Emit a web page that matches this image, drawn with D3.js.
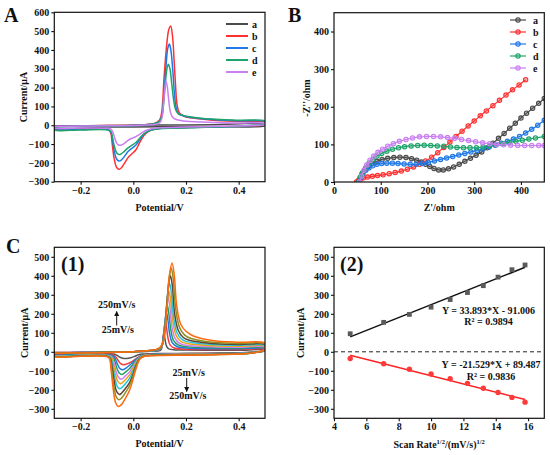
<!DOCTYPE html>
<html><head><meta charset="utf-8">
<script src="https://cdn.jsdelivr.net/npm/d3@7"></script>
<style>
body{margin:0;background:#fff}
svg text{font-family:"Liberation Serif","Times New Roman",serif;font-weight:bold;fill:#111}
</style>
</head><body>
<svg id="c" width="550" height="455"></svg>
<script>
// ---------- Panel A: CV curves a-e ----------
const legendA = ["a","b","c","d","e"];
const colorsA = ["#4a4a4a","#ff3030","#1f78e6","#1ea36a","#c97ff2"];
const cvA_a = [[-0.3,-3],[-0.1,-1],[0.1,1],[0.3,3],[0.5,5],[0.5,-3],[0.3,-6],[0.1,-8],[-0.1,-10],[-0.3,-12],[-0.3,-3]];
const cvA_b = [[-0.3,-6],[-0.2,-4],[-0.1,-2],[0,0],[0.05,4],[0.08,10],[0.1,28],[0.108,70],[0.117,258],[0.127,430],[0.135,510],[0.142,527],[0.149,470],[0.155,340],[0.16,220],[0.166,110],[0.175,65],[0.19,50],[0.2,44],[0.25,34],[0.3,27],[0.4,20],[0.5,15],
 [0.5,4],[0.45,-3],[0.4,-6],[0.3,-9],[0.2,-12],[0.1,-16],[0.07,-24],[0.055,-35],[0.04,-55],[0.025,-90],[0.01,-130],[-0.005,-152],[-0.02,-172],[-0.035,-205],[-0.048,-230],[-0.056,-234],[-0.065,-220],[-0.073,-175],[-0.08,-100],[-0.086,-40],[-0.095,-23],[-0.2,-20],[-0.3,-18],[-0.3,-6]];
const cvA_c = [[-0.3,-7],[-0.2,-5],[-0.1,-3],[0,-1],[0.05,3],[0.08,8],[0.1,22],[0.109,55],[0.117,180],[0.125,330],[0.131,410],[0.137,431],[0.143,395],[0.15,290],[0.156,170],[0.163,90],[0.172,60],[0.19,50],[0.2,46],[0.25,36],[0.3,30],[0.4,24],[0.5,19],
 [0.5,6],[0.45,-2],[0.4,-6],[0.3,-10],[0.2,-13],[0.1,-17],[0.07,-24],[0.055,-33],[0.04,-48],[0.025,-75],[0.01,-105],[-0.005,-122],[-0.02,-140],[-0.035,-168],[-0.047,-187],[-0.055,-190],[-0.064,-178],[-0.072,-140],[-0.079,-80],[-0.085,-36],[-0.095,-24],[-0.2,-22],[-0.3,-21],[-0.3,-7]];
const cvA_d = [[-0.3,-8],[-0.2,-6],[-0.1,-4],[0,-1],[0.05,3],[0.08,8],[0.1,22],[0.109,50],[0.117,150],[0.124,260],[0.129,310],[0.133,324],[0.139,300],[0.146,220],[0.153,135],[0.16,85],[0.17,62],[0.19,52],[0.2,48],[0.25,39],[0.3,33],[0.4,27],[0.5,22],
 [0.5,8],[0.45,0],[0.4,-5],[0.3,-10],[0.2,-14],[0.1,-19],[0.07,-26],[0.055,-34],[0.04,-46],[0.025,-68],[0.01,-92],[-0.005,-106],[-0.02,-120],[-0.035,-140],[-0.047,-153],[-0.055,-156],[-0.064,-145],[-0.072,-112],[-0.079,-65],[-0.085,-34],[-0.095,-26],[-0.2,-25],[-0.3,-24],[-0.3,-8]];
const cvA_e = [[-0.3,-6],[-0.2,-4],[-0.1,-3],[0,-1],[0.05,1],[0.08,4],[0.1,12],[0.108,35],[0.115,120],[0.12,200],[0.124,235],[0.129,205],[0.134,140],[0.14,75],[0.148,45],[0.16,32],[0.18,25],[0.2,21],[0.3,15],[0.4,12],[0.5,10],
 [0.5,4],[0.45,-1],[0.4,-4],[0.3,-7],[0.2,-10],[0.1,-14],[0.07,-19],[0.05,-27],[0.035,-38],[0.02,-52],[0.005,-64],[-0.01,-72],[-0.025,-86],[-0.038,-100],[-0.048,-106],[-0.056,-105],[-0.064,-92],[-0.071,-66],[-0.078,-36],[-0.085,-20],[-0.1,-16],[-0.2,-15],[-0.3,-14],[-0.3,-6]];

// ---------- Panel B: Nyquist plots a-e ----------
const eis_a = [[52,0],[56,12],[60,22],[66,32],[73,41],[82,49],[92,55],[103,60],[115,63],[128,65],[141,66],[154,65],[166,62],[177,58],[187,53],[196,47],[205,41],[214,36],[224,32],[234,32],[245,35],[256,40],[268,47],[280,55],[292,63],[304,71],[316,80],[328,91],[340,103],[352,116],[364,129],[376,143],[388,156],[400,170],[412,183],[425,196],[438,209],[450,222]];
const eis_b = [[48,0],[52,4],[57,8],[63,11],[72,13],[82,15],[93,17],[105,19],[118,22],[131,25],[144,29],[157,34],[170,40],[183,47],[196,56],[209,66],[222,78],[235,92],[248,106],[261,121],[274,135],[287,149],[300,162],[313,176],[326,189],[340,203],[354,217],[368,231],[382,245],[396,258],[410,272]];
const eis_c = [[53,0],[57,12],[62,22],[68,31],[75,38],[83,43],[92,47],[102,49],[113,50],[125,50],[137,49],[150,48],[163,47],[176,47],[189,49],[202,52],[215,56],[228,60],[241,64],[254,68],[267,72],[280,76],[293,80],[306,84],[319,88],[332,93],[345,98],[358,103],[371,108],[384,114],[397,121],[410,130],[423,140],[436,151],[450,164]];
const eis_d = [[53,0],[57,14],[62,26],[68,38],[75,50],[83,60],[92,69],[102,76],[113,82],[125,87],[138,91],[151,94],[165,96],[179,97],[193,98],[207,97],[221,96],[235,95],[249,93],[263,92],[277,91],[291,91],[305,91],[319,93],[333,96],[347,99],[361,102],[375,105],[389,108],[403,111],[417,114],[431,117],[450,121]];
const eis_e = [[55,0],[59,16],[64,31],[70,45],[77,58],[85,69],[94,79],[104,87],[115,95],[127,102],[140,108],[154,113],[168,117],[183,120],[198,121],[213,121],[228,120],[243,118],[258,116],[273,113],[288,110],[303,107],[318,104],[333,102],[348,100],[363,99],[378,98],[393,97],[408,97],[423,97],[438,97],[450,97]];

// ---------- Panel C(1): CV at scan rates 25..250 mV/s ----------
const colorsC = ["#555555","#f23b3b","#1f77e0","#1fa05e","#d27ef0","#e9a41c","#25c4d9","#5a4638","#8f8f20","#ff6a10"];
const cvC_25 = [[-0.3,-4],[-0.2,-3],[-0.1,-2],[0,0],[0.05,2],[0.09,4],[0.104,8],[0.109,25],[0.113,75],[0.116,100],[0.12,70],[0.126,30],[0.135,15],[0.16,10],[0.2,9],[0.3,8],[0.4,8],[0.5,9],
 [0.5,4],[0.45,-3],[0.4,-5],[0.3,-7],[0.2,-8],[0.1,-9],[0.06,-10],[0.035,-12],[0.02,-16],[0.005,-24],[-0.01,-31],[-0.025,-35],[-0.04,-34],[-0.055,-25],[-0.065,-16],[-0.075,-11],[-0.1,-10],[-0.2,-10],[-0.3,-10],[-0.3,-4]];
const cvC_50 = [[-0.3,-4],[-0.2,-3],[-0.1,-2],[0,0],[0.05,3],[0.09,6],[0.102,12],[0.109,30],[0.115,90],[0.119,140],[0.122,160],[0.126,130],[0.132,70],[0.14,35],[0.155,20],[0.2,14],[0.3,12],[0.4,12],[0.5,13],
 [0.5,6],[0.45,-3],[0.4,-6],[0.3,-8],[0.2,-10],[0.1,-11],[0.065,-12],[0.05,-15],[0.03,-21],[0.015,-32],[0,-47],[-0.015,-59],[-0.035,-68],[-0.048,-62],[-0.058,-45],[-0.066,-28],[-0.075,-17],[-0.1,-13],[-0.2,-12],[-0.3,-12],[-0.3,-4]];
const cvC_75 = [[-0.3,-5],[-0.2,-4],[-0.1,-2],[0,0],[0.05,3],[0.09,7],[0.102,14],[0.11,35],[0.117,110],[0.122,180],[0.126,205],[0.131,170],[0.138,95],[0.147,50],[0.165,28],[0.2,20],[0.3,16],[0.4,16],[0.5,17],
 [0.5,7],[0.45,-4],[0.4,-7],[0.3,-9],[0.2,-11],[0.1,-12],[0.06,-14],[0.04,-18],[0.025,-24],[0.01,-40],[-0.003,-57],[-0.015,-72],[-0.028,-86],[-0.04,-95],[-0.051,-88],[-0.06,-66],[-0.068,-38],[-0.076,-21],[-0.1,-15],[-0.2,-14],[-0.3,-14],[-0.3,-5]];
const cvC_100 = [[-0.3,-5],[-0.2,-4],[-0.1,-2],[0,0],[0.05,3],[0.09,8],[0.103,16],[0.111,40],[0.119,130],[0.125,215],[0.129,245],[0.134,210],[0.142,120],[0.152,62],[0.17,36],[0.2,27],[0.3,21],[0.4,20],[0.5,21],
 [0.5,8],[0.45,-4],[0.4,-8],[0.3,-10],[0.2,-12],[0.1,-13],[0.06,-15],[0.04,-19],[0.025,-26],[0.01,-46],[-0.003,-69],[-0.015,-89],[-0.03,-107],[-0.043,-120],[-0.054,-110],[-0.063,-84],[-0.071,-46],[-0.079,-24],[-0.1,-17],[-0.2,-16],[-0.3,-16],[-0.3,-5]];
const cvC_125 = [[-0.3,-6],[-0.2,-4],[-0.1,-2],[0,0],[0.05,4],[0.09,9],[0.103,18],[0.112,45],[0.121,150],[0.127,250],[0.132,285],[0.138,245],[0.146,140],[0.157,75],[0.175,45],[0.2,35],[0.3,26],[0.4,24],[0.5,25],
 [0.5,9],[0.45,-5],[0.4,-9],[0.3,-11],[0.2,-13],[0.1,-14],[0.06,-16],[0.04,-20],[0.025,-28],[0.01,-52],[-0.003,-82],[-0.015,-107],[-0.03,-127],[-0.046,-145],[-0.057,-133],[-0.066,-102],[-0.074,-55],[-0.082,-26],[-0.1,-19],[-0.2,-18],[-0.3,-18],[-0.3,-6]];
const cvC_150 = [[-0.3,-6],[-0.2,-5],[-0.1,-3],[0,0],[0.05,4],[0.09,10],[0.104,20],[0.113,50],[0.122,165],[0.129,280],[0.135,320],[0.141,280],[0.15,160],[0.162,88],[0.18,55],[0.2,45],[0.3,32],[0.4,29],[0.5,29],
 [0.5,10],[0.45,-5],[0.4,-10],[0.3,-12],[0.2,-14],[0.1,-15],[0.06,-17],[0.04,-21],[0.025,-30],[0.01,-57],[-0.003,-95],[-0.015,-123],[-0.03,-147],[-0.043,-164],[-0.049,-168],[-0.059,-156],[-0.068,-120],[-0.076,-65],[-0.084,-28],[-0.1,-20],[-0.2,-19],[-0.3,-19],[-0.3,-6]];
const cvC_175 = [[-0.3,-7],[-0.2,-5],[-0.1,-3],[0,0],[0.05,4],[0.09,11],[0.104,22],[0.113,52],[0.123,180],[0.132,320],[0.138,360],[0.144,315],[0.153,180],[0.166,100],[0.185,65],[0.2,55],[0.3,38],[0.4,34],[0.5,33],
 [0.5,11],[0.45,-6],[0.4,-10],[0.3,-13],[0.2,-15],[0.1,-16],[0.06,-18],[0.04,-22],[0.025,-32],[0.01,-65],[-0.003,-109],[-0.015,-141],[-0.03,-168],[-0.045,-190],[-0.051,-195],[-0.061,-182],[-0.07,-140],[-0.078,-75],[-0.086,-30],[-0.1,-21],[-0.2,-20],[-0.3,-20],[-0.3,-7]];
const cvC_200 = [[-0.3,-7],[-0.2,-5],[-0.1,-3],[0,0],[0.05,5],[0.09,12],[0.104,24],[0.114,58],[0.124,190],[0.134,355],[0.141,400],[0.148,350],[0.157,200],[0.17,115],[0.19,75],[0.21,62],[0.3,44],[0.4,39],[0.5,37],
 [0.5,12],[0.45,-6],[0.4,-11],[0.3,-14],[0.2,-16],[0.1,-17],[0.06,-19],[0.04,-23],[0.025,-34],[0.01,-73],[-0.003,-125],[-0.015,-163],[-0.03,-193],[-0.045,-218],[-0.053,-225],[-0.063,-210],[-0.072,-160],[-0.08,-85],[-0.088,-33],[-0.1,-23],[-0.2,-22],[-0.3,-22],[-0.3,-7]];
const cvC_225 = [[-0.3,-8],[-0.2,-6],[-0.1,-3],[0,0],[0.05,5],[0.09,13],[0.105,26],[0.115,62],[0.126,210],[0.136,390],[0.144,440],[0.151,390],[0.161,225],[0.175,130],[0.195,88],[0.22,70],[0.3,50],[0.4,44],[0.5,42],
 [0.5,13],[0.45,-7],[0.4,-12],[0.3,-15],[0.2,-17],[0.1,-18],[0.06,-20],[0.04,-24],[0.025,-36],[0.01,-80],[-0.003,-138],[-0.015,-180],[-0.03,-215],[-0.045,-244],[-0.055,-252],[-0.065,-236],[-0.074,-180],[-0.082,-95],[-0.089,-35],[-0.1,-24],[-0.2,-23],[-0.3,-23],[-0.3,-8]];
const cvC_250 = [[-0.3,-8],[-0.2,-6],[-0.1,-4],[0,0],[0.05,5],[0.09,14],[0.105,28],[0.116,66],[0.127,220],[0.138,410],[0.147,467],[0.155,410],[0.165,240],[0.18,145],[0.2,108],[0.23,82],[0.3,60],[0.4,50],[0.5,46],
 [0.5,14],[0.45,-7],[0.4,-12],[0.3,-16],[0.2,-18],[0.1,-19],[0.06,-21],[0.04,-25],[0.025,-38],[0.01,-90],[-0.003,-155],[-0.015,-205],[-0.03,-245],[-0.045,-278],[-0.057,-288],[-0.067,-268],[-0.076,-200],[-0.084,-100],[-0.091,-35],[-0.1,-25],[-0.2,-24],[-0.3,-24],[-0.3,-8]];

// ---------- Panel C(2): peak current vs sqrt(scan rate) ----------
const sqrtRate = [5.00, 7.07, 8.66, 10.00, 11.18, 12.25, 13.23, 14.14, 15.00, 15.81];
const anodicPeak = [95, 155, 197, 235, 275, 312, 348, 393, 432, 457];
const cathodicPeak = [-35, -63, -92, -117, -142, -166, -192, -214, -240, -265];
const fitX = [5.00, 15.81];
const fitAnodicY = [78.5, 444.8];
const fitCathodicY = [-18.2, -250.9];
const eqAnodic = ["Y = 33.893*X - 91.006", "R² = 0.9894"];
const eqCathodic = ["Y = -21.529*X + 89.487", "R² = 0.9836"];

// ticks
const ticksPotential = [-0.2, 0.0, 0.2, 0.4];
const ticksCurrentA = [-300,-200,-100,0,100,200,300,400,500,600];
const ticksB = [0,100,200,300,400];
const ticksCurrentC = [-300,-200,-100,0,100,200,300,400,500];
const ticksRate = [4,6,8,10,12,14,16];

// ================= drawing =================
const svg = d3.select("#c");
let clipN = 0;
function panel(box, xd, yd, xt, yt, xf, yf){
  const x = d3.scaleLinear().domain(xd).range([box.l, box.r]);
  const y = d3.scaleLinear().domain(yd).range([box.b, box.t]);
  const id = "clip" + (clipN++);
  svg.append("clipPath").attr("id", id).append("rect")
    .attr("x", box.l).attr("y", box.t).attr("width", box.r-box.l).attr("height", box.b-box.t);
  const gx = svg.append("g").attr("transform", `translate(0,${box.b})`)
    .call(d3.axisBottom(x).tickValues(xt).tickSize(3).tickPadding(2).tickFormat(xf));
  const gy = svg.append("g").attr("transform", `translate(${box.l},0)`)
    .call(d3.axisLeft(y).tickValues(yt).tickSize(3).tickPadding(2).tickFormat(yf));
  [gx, gy].forEach(g => {
    g.select(".domain").remove();
    g.selectAll("line").attr("stroke", "#111").attr("stroke-width", 1.1);
    g.selectAll("text").attr("font-size", "10px").attr("font-family", "Liberation Serif").attr("font-weight", "bold").attr("fill", "#111");
  });
  const plot = svg.append("g").attr("clip-path", `url(#${id})`);
  return {x, y, plot, box};
}
function frame(p){
  svg.append("rect").attr("x", p.box.l).attr("y", p.box.t)
    .attr("width", p.box.r-p.box.l).attr("height", p.box.b-p.box.t)
    .attr("fill", "none").attr("stroke", "#111").attr("stroke-width", 1.2);
}
function label(txt, x, y, size, rot){
  const t = svg.append("text").attr("x", x).attr("y", y).attr("font-size", size + "px").text(txt);
  if (rot) t.attr("transform", `rotate(-90,${x},${y})`).attr("text-anchor", "middle");
  return t;
}
const fmtI = d3.format("d");
const fmtV = d3.format(".1f");
const cvLine = p => d3.line().x(d => p.x(d[0])).y(d => p.y(d[1])).curve(d3.curveCatmullRom.alpha(0.5));

// ---- Panel A ----
const pA = panel({l:54.3, r:265, t:12.3, b:181.7}, [-0.3,0.5], [-300,600], ticksPotential, ticksCurrentA, fmtV, fmtI);
const seriesA = [cvA_a, cvA_b, cvA_c, cvA_d, cvA_e];
seriesA.forEach((s,i) => {
  pA.plot.append("path").attr("d", cvLine(pA)(s)).attr("fill", "none")
    .attr("stroke", colorsA[i]).attr("stroke-width", i === 0 ? 1.4 : 1.5);
});
frame(pA);
legendA.forEach((n,i) => {
  const yy = 24 + i*12;
  svg.append("line").attr("x1", 226).attr("x2", 248).attr("y1", yy).attr("y2", yy)
    .attr("stroke", colorsA[i]).attr("stroke-width", 2);
  svg.append("text").attr("x", 252).attr("y", yy + 3.5).attr("font-size", "10px").text(n);
});
label("A", 4, 22, 20);
label("Current/μA", 27, 97, 10, true);
label("Potential/V", 159.6, 211, 10).attr("text-anchor", "middle");

// ---- Panel B ----
const pB = panel({l:334, r:544.3, t:12.7, b:182}, [0,450], [0,450], ticksB, ticksB, fmtI, fmtI);
const seriesB = [eis_a, eis_b, eis_c, eis_d, eis_e];
const eisLine = d3.line().x(d => pB.x(d[0])).y(d => pB.y(d[1])).curve(d3.curveCatmullRom.alpha(0.5));
seriesB.forEach((s,i) => {
  pB.plot.append("path").attr("d", eisLine(s)).attr("fill", "none")
    .attr("stroke", colorsA[i]).attr("stroke-width", 1.2);
  pB.plot.selectAll(null).data(s).join("circle")
    .attr("cx", d => pB.x(d[0])).attr("cy", d => pB.y(d[1])).attr("r", 2.2)
    .attr("fill", colorsA[i]).attr("fill-opacity", 0.35).attr("stroke", colorsA[i]).attr("stroke-width", 1.1);
});
frame(pB);
legendA.forEach((n,i) => {
  const yy = 20 + i*12;
  svg.append("line").attr("x1", 510).attr("x2", 526).attr("y1", yy).attr("y2", yy)
    .attr("stroke", colorsA[i]).attr("stroke-width", 1.2);
  svg.append("circle").attr("cx", 518).attr("cy", yy).attr("r", 2.2)
    .attr("fill", colorsA[i]).attr("fill-opacity", 0.35).attr("stroke", colorsA[i]).attr("stroke-width", 1.1);
  svg.append("text").attr("x", 533).attr("y", yy + 3.5).attr("font-size", "10px").text(n);
});
label("B", 288, 22, 20);
label("-Z''/ohm", 310, 98, 10, true);
label("Z'/ohm", 439.2, 211, 10).attr("text-anchor", "middle");

// ---- Panel C(1) ----
const pC = panel({l:54.3, r:265, t:247.3, b:418.3}, [-0.3,0.5], [-350,550], ticksPotential, ticksCurrentC, fmtV, fmtI);
const seriesC = [cvC_25, cvC_50, cvC_75, cvC_100, cvC_125, cvC_150, cvC_175, cvC_200, cvC_225, cvC_250];
seriesC.forEach((s,i) => {
  pC.plot.append("path").attr("d", cvLine(pC)(s)).attr("fill", "none")
    .attr("stroke", colorsC[i]).attr("stroke-width", 1.5);
});
frame(pC);
label("C", 6, 253, 20);
label("(1)", 61, 271, 20);
label("Current/μA", 28.5, 332.8, 10, true);
label("Potential/V", 159.6, 447, 10).attr("text-anchor", "middle");
label("250mV/s", 116.7, 307.5, 10).attr("text-anchor", "middle");
label("25mV/s", 117.8, 333, 10).attr("text-anchor", "middle");
label("25mV/s", 188.7, 375.8, 10).attr("text-anchor", "middle");
label("250mV/s", 187.8, 399.2, 10).attr("text-anchor", "middle");
svg.append("defs").html('<marker id="ah" viewBox="0 0 10 10" refX="9" refY="5" markerWidth="5" markerHeight="6" orient="auto"><path d="M0,0 L10,5 L0,10 z" fill="#111"/></marker>');
svg.append("line").attr("x1", 116.7).attr("x2", 116.7).attr("y1", 325.5).attr("y2", 311.5)
  .attr("stroke", "#111").attr("stroke-width", 1).attr("marker-end", "url(#ah)");
svg.append("line").attr("x1", 186.7).attr("x2", 186.7).attr("y1", 378).attr("y2", 391.5)
  .attr("stroke", "#111").attr("stroke-width", 1).attr("marker-end", "url(#ah)");

// ---- Panel C(2) ----
const pD = panel({l:334, r:544.3, t:247.3, b:418.3}, [4,17], [-350,550], ticksRate, ticksCurrentC, fmtI, fmtI);
pD.plot.append("line").attr("x1", pD.x(4)).attr("x2", pD.x(17)).attr("y1", pD.y(0)).attr("y2", pD.y(0))
  .attr("stroke", "#222").attr("stroke-width", 1).attr("stroke-dasharray", "4,3");
const fitLine = d3.line().x(d => pD.x(d[0])).y(d => pD.y(d[1]));
pD.plot.append("path").attr("d", fitLine(fitX.map((v,i) => [v, fitAnodicY[i]])))
  .attr("stroke", "#111").attr("stroke-width", 1.5).attr("fill", "none");
pD.plot.append("path").attr("d", fitLine(fitX.map((v,i) => [v, fitCathodicY[i]])))
  .attr("stroke", "#ff2020").attr("stroke-width", 1.5).attr("fill", "none");
pD.plot.selectAll(null).data(sqrtRate.map((v,i) => [v, anodicPeak[i]])).join("rect")
  .attr("x", d => pD.x(d[0]) - 2.4).attr("y", d => pD.y(d[1]) - 2.4)
  .attr("width", 4.8).attr("height", 4.8).attr("fill", "#5a5a5a");
pD.plot.selectAll(null).data(sqrtRate.map((v,i) => [v, cathodicPeak[i]])).join("circle")
  .attr("cx", d => pD.x(d[0])).attr("cy", d => pD.y(d[1])).attr("r", 2.7).attr("fill", "#ff3a3a");
frame(pD);
label("(2)", 340, 271, 20);
label("Current/μA", 304.5, 332.8, 10, true);
label(eqAnodic[0], 488.5, 313.5, 10).attr("text-anchor", "middle");
label(eqAnodic[1], 488.5, 325, 10).attr("text-anchor", "middle");
label(eqCathodic[0], 491, 368, 10).attr("text-anchor", "middle");
label(eqCathodic[1], 491, 379.5, 10).attr("text-anchor", "middle");
const xl = svg.append("text").attr("x", 439.2).attr("y", 448).attr("font-size", "10px").attr("text-anchor", "middle");
xl.append("tspan").text("Scan Rate");
xl.append("tspan").attr("font-size", "6.5px").attr("dy", -4).text("1/2");
xl.append("tspan").attr("dy", 4).text("/(mV/s)");
xl.append("tspan").attr("font-size", "6.5px").attr("dy", -4).text("1/2");
</script>
</body></html>
